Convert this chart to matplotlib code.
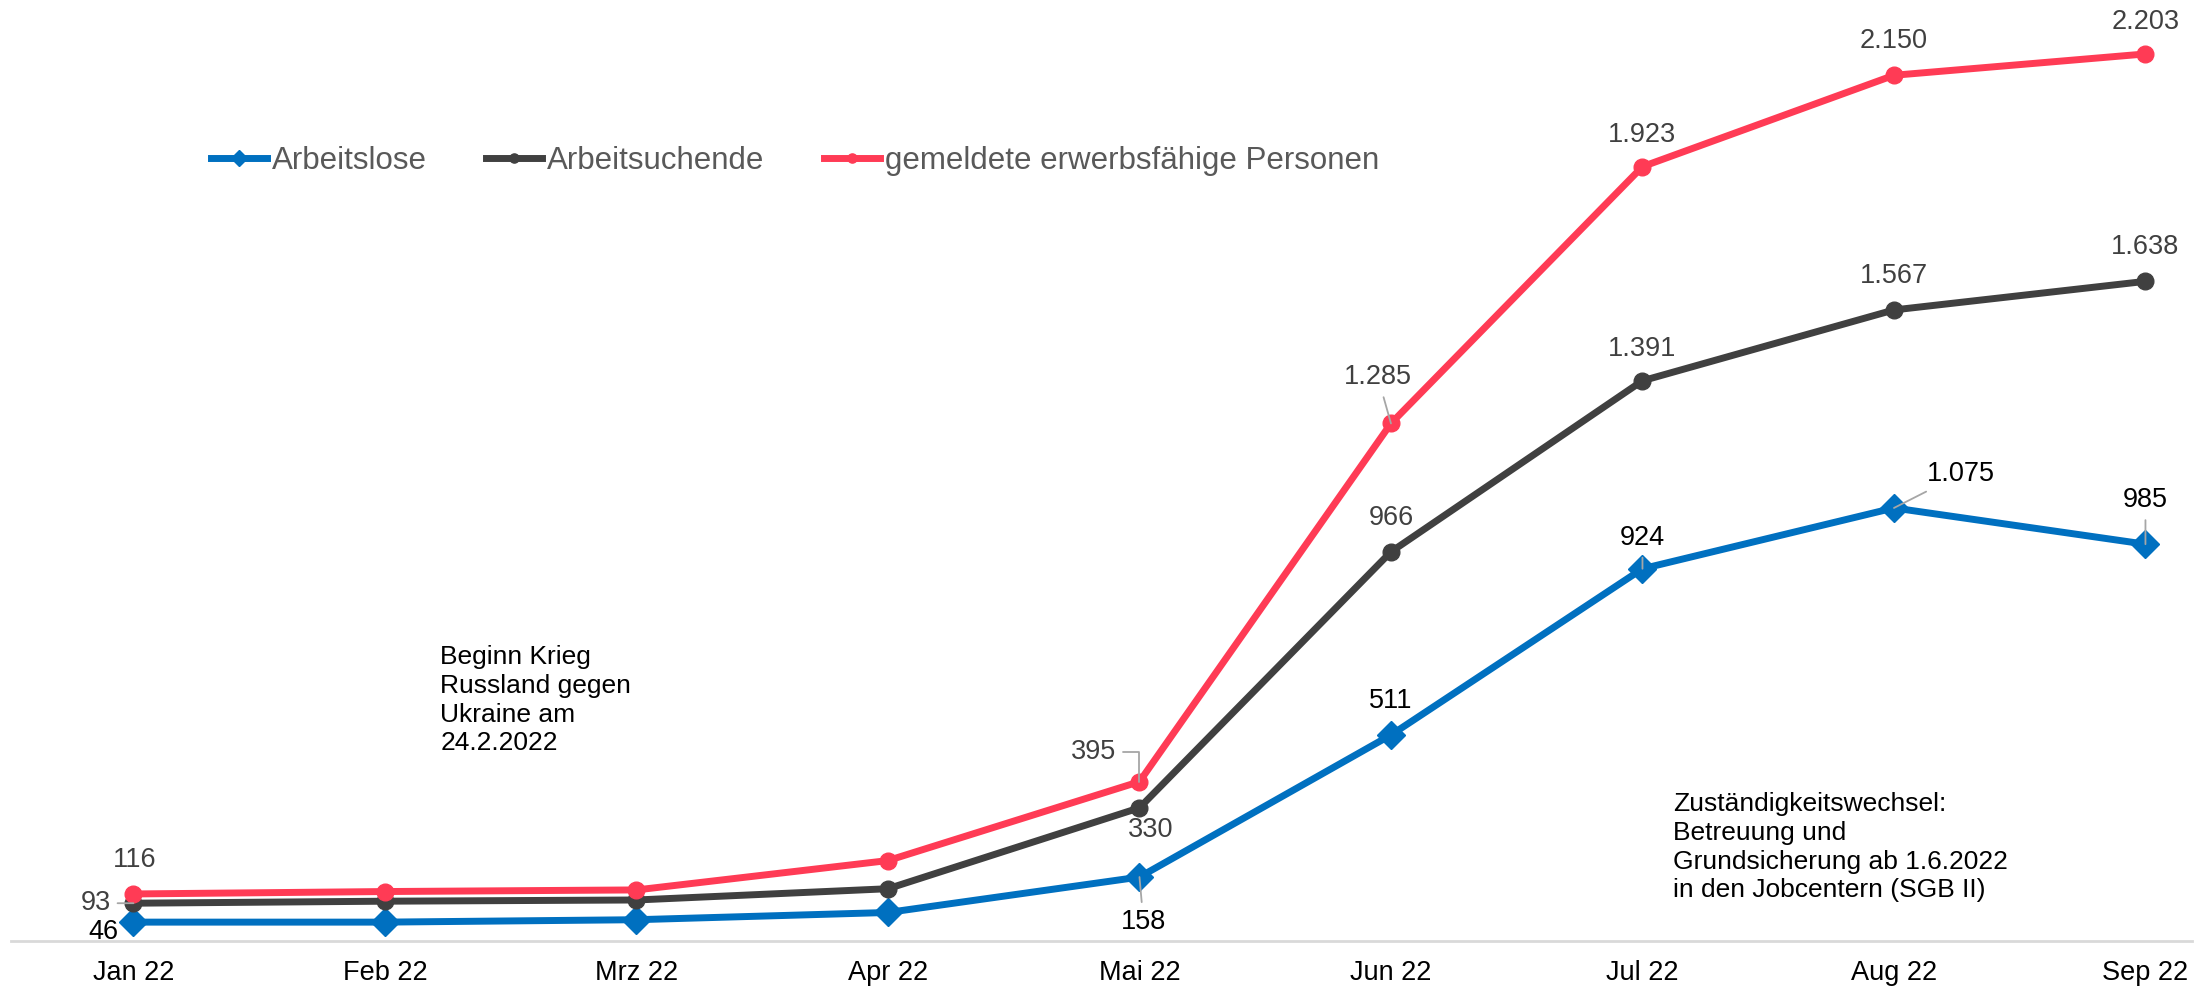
import matplotlib.pyplot as plt

plt.rcParams['font.family'] = ['Liberation Sans', 'DejaVu Sans']

months = ['Jan 22', 'Feb 22', 'Mrz 22', 'Apr 22', 'Mai 22', 'Jun 22', 'Jul 22', 'Aug 22', 'Sep 22']
arbeitslose = [46, 46, 52, 70, 158, 511, 924, 1075, 985]
arbeitsuchende = [93, 98, 101, 129, 330, 966, 1391, 1567, 1638]
gemeldete = [116, 122, 126, 199, 395, 1285, 1923, 2150, 2203]

# which points get a label, and where (offset in pixels, leader line or not)
lab_blue = {0: (-30, -10, False), 4: (4, -45, True), 5: (0, 34, False), 6: (0, 31, True),
            7: (67, 34, True), 8: (0, 44, True)}
lab_gray = {0: (-38, 0, True), 4: (11, -22, False), 5: (0, 34, False), 6: (0, 32, False),
            7: (0, 34, False), 8: (0, 34, False)}
lab_red = {0: (1, 34, False), 4: (-46, 30, True), 5: (-13, 46, True), 6: (0, 32, False),
           7: (0, 34, False), 8: (0, 32, False)}

blue = '#0070C0'
gray = '#404040'
red = '#FF3B55'


def fmt(v):
    return f'{v:,}'.replace(',', '.')


fig = plt.figure(figsize=(22.03, 9.86), dpi=100)
ax = fig.add_axes([0.005, 0.046, 0.99, 0.954])
x = list(range(len(months)))

ax.plot(x, arbeitslose, color=blue, lw=5, marker='D', ms=14.5, label='Arbeitslose', zorder=3)
ax.plot(x, arbeitsuchende, color=gray, lw=5, marker='o', ms=12, label='Arbeitsuchende', zorder=3)
ax.plot(x, gemeldete, color=red, lw=5, marker='o', ms=12, label='gemeldete erwerbsfähige Personen', zorder=3)


def put_labels(vals, labs, tcol):
    for i, (dx, dy, lead) in labs.items():
        props = None
        if lead:
            props = dict(arrowstyle='-', color='#A6A6A6', lw=1.3, shrinkA=3, shrinkB=0)
            if i == 4 and vals is gemeldete:
                props['connectionstyle'] = 'angle,angleA=0,angleB=90,rad=0'
        ax.annotate(fmt(vals[i]), (i, vals[i]), xytext=(dx, dy), textcoords='offset pixels',
                    ha='center', va='center', fontsize=19.5, color=tcol, arrowprops=props, zorder=4)


put_labels(arbeitslose, lab_blue, 'black')
put_labels(arbeitsuchende, lab_gray, gray)
put_labels(gemeldete, lab_red, gray)

ax.text(1.22, 734, 'Beginn Krieg\nRussland gegen\nUkraine am\n24.2.2022', fontsize=19,
        va='top', ha='left', linespacing=1.25)
ax.text(6.12, 369, 'Zuständigkeitswechsel:\nBetreuung und\nGrundsicherung ab 1.6.2022\nin den Jobcentern (SGB II)',
        fontsize=19, va='top', ha='left', linespacing=1.25)

ax.set_xlim(-0.487, 8.185)
ax.set_ylim(0, 2337)
ax.set_xticks(x)
ax.set_xticklabels(months, fontsize=19.5)
ax.tick_params(axis='x', length=0, pad=14)
ax.set_yticks([])
for s in ['top', 'right', 'left']:
    ax.spines[s].set_visible(False)
ax.spines['bottom'].set_color('#D9D9D9')
ax.spines['bottom'].set_linewidth(2)

leg = ax.legend(loc='center left', bbox_to_anchor=(0.0885, 0.837), bbox_transform=fig.transFigure,
                ncol=3, frameon=False, fontsize=22.5, handlelength=1.8, handletextpad=0.15,
                columnspacing=1.9, borderpad=0, markerscale=0.55)
for t in leg.get_texts():
    t.set_color('#595959')

fig.savefig('out.png', dpi=100)
